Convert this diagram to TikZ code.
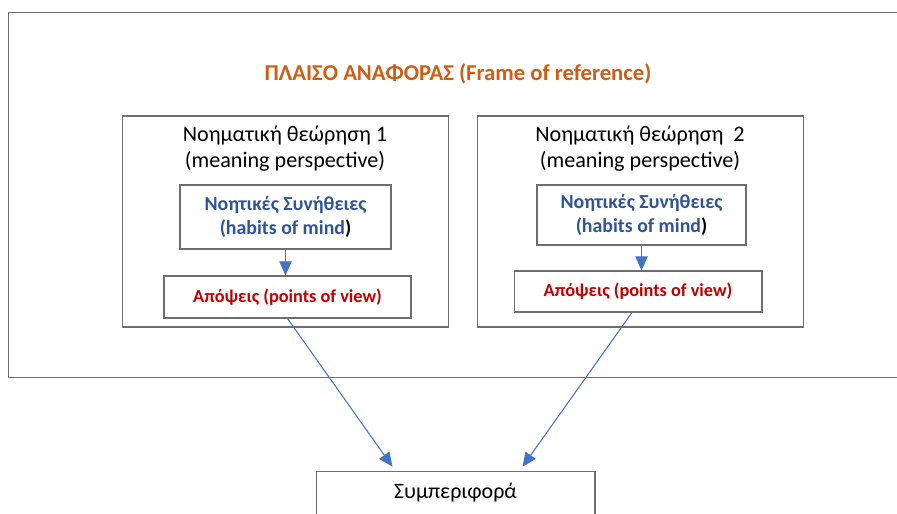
\documentclass[tikz,border=0pt]{standalone}
\usepackage{fontspec}
\setmainfont{Carlito}
\usetikzlibrary{arrows.meta}
\definecolor{framegray}{RGB}{110,110,110}
\definecolor{arrowblue}{RGB}{68,114,196}
\definecolor{habitblue}{RGB}{47,84,150}
\definecolor{viewred}{RGB}{192,0,0}
\definecolor{titleorange}{RGB}{205,92,20}
\tikzset{
  box/.style={draw=framegray, line width=0.6pt, inner sep=0pt},
  link/.style={draw=arrowblue, line width=0.6pt, -{Triangle[length=8pt,width=7pt]}}
}
\begin{document}
\begin{tikzpicture}[x=0.02cm,y=-0.02cm]
   \useasboundingbox (0,0) rectangle (897,514);
   \clip (0,0) rectangle (897,514);
   % outer frame
   \node[box, minimum width=18.2cm, minimum height=7.32cm] (frame) at (463,195) {};
   \node[text=titleorange, font=\bfseries\fontsize{12.9}{15}\selectfont] (title) at (458,74)
     {ΠΛΑΙΣΟ ΑΝΑΦΟΡΑΣ (Frame of reference)};
   % perspectives
   \node[box, minimum width=6.54cm, minimum height=4.22cm] (pers1) at (285.5,221.5) {};
   \node[box, minimum width=6.54cm, minimum height=4.22cm] (pers2) at (640.5,221.5) {};
   \node[align=center, font=\fontsize{12.6}{14.8}\selectfont, anchor=north] (ptext1)
     at (285,120) {Νοηματική θεώρηση 1\\(meaning perspective)};
   \node[align=center, font=\fontsize{12.6}{14.8}\selectfont, anchor=north] (ptext2)
     at (640,120) {Νοηματική θεώρηση \ 2\\(meaning perspective)};
   % habits of mind
   \node[box, minimum width=4.22cm, minimum height=1.28cm, align=center, text=habitblue,
     font=\bfseries\fontsize{11.3}{14}\selectfont] (habit1) at (285.5,217)
     {Νοητικές Συνήθειες\\(habits of mind\textcolor{black}{)}};
   \node[box, minimum width=4.18cm, minimum height=1.2cm, align=center, text=habitblue,
     font=\bfseries\fontsize{11.3}{14}\selectfont] (habit2) at (641.5,215)
     {Νοητικές Συνήθειες\\(habits of mind\textcolor{black}{)}};
   % points of view
   \node[box, minimum width=4.94cm, minimum height=0.84cm, text=viewred,
     font=\bfseries\fontsize{10.4}{12}\selectfont] (view1) at (287.5,297)
     {Απόψεις (points of view)};
   \node[box, minimum width=4.96cm, minimum height=0.82cm, text=viewred,
     font=\bfseries\fontsize{10.4}{12}\selectfont] (view2) at (638,291.5)
     {Απόψεις (points of view)};
   % behaviour
   \node[box, minimum width=5.58cm, minimum height=1.6cm, anchor=north] (behav) at (455.5,471) {};
   \node[font=\fontsize{12.5}{14}\selectfont] (btext) at (455.5,493) {Συμπεριφορά};
   % arrows
   \draw[link] (habit1.south) -- (view1.north -| habit1.south);
   \draw[link] (habit2.south) -- (view2.north -| habit2.south);
   \draw[link, shorten >=3pt] (view1.south) -- ([xshift=-1.2cm]behav.north);
   \draw[link, shorten >=3pt] (view2.south -| 632,0) -- ([xshift=1.28cm]behav.north);
\end{tikzpicture}
\end{document}
